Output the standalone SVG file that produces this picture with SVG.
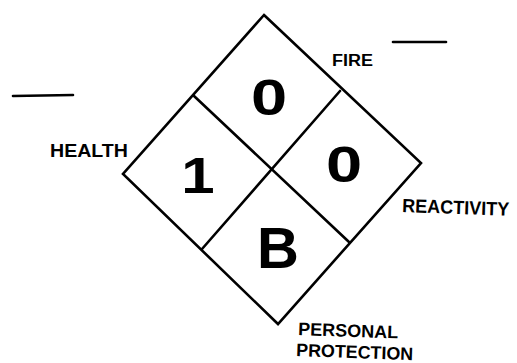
<svg xmlns="http://www.w3.org/2000/svg" width="517" height="363" viewBox="0 0 517 363">
<style>
.ln{fill:none;stroke:#000;stroke-width:2.6;stroke-linejoin:miter;stroke-linecap:round}
.lbl{font-family:"Liberation Sans",Arial,sans-serif;font-weight:bold;fill:#000}
.num{font-family:"Liberation Sans",Arial,sans-serif;font-weight:bold;fill:#000;text-anchor:middle}
</style>
<rect width="517" height="363" fill="#fff"/>
<g id="diamond">
<polygon class="ln" points="264,15 421,163 278,324 123,174"/>
</g>
<g id="connectors">
<line class="ln" x1="194" y1="96" x2="349" y2="242"/>
<line class="ln" x1="340" y1="91" x2="202" y2="249"/>
<line class="ln" x1="393" y1="42" x2="446" y2="42"/>
<line class="ln" x1="13" y1="96" x2="73" y2="95"/>
</g>
<g id="fire">
<text class="num" font-size="50" transform="translate(269,115) scale(1.3,1)">0</text>
<text class="lbl" x="332" y="66" font-size="16" textLength="41" lengthAdjust="spacingAndGlyphs">FIRE</text>
</g>
<g id="health">
<text class="num" font-size="50" transform="translate(198,193) scale(1.2,1)">1</text>
<text class="lbl" x="50" y="157" font-size="18" textLength="78" lengthAdjust="spacingAndGlyphs">HEALTH</text>
</g>
<g id="reactivity">
<text class="num" font-size="50" transform="translate(344,182) scale(1.3,1)">0</text>
<text class="lbl" x="402" y="212" font-size="19" textLength="107" lengthAdjust="spacingAndGlyphs" transform="rotate(2 402 212)">REACTIVITY</text>
</g>
<g id="personal-protection">
<text class="num" font-size="58" x="278" y="268">B</text>
<text class="lbl" x="298" y="335" font-size="18" textLength="100" lengthAdjust="spacingAndGlyphs" transform="rotate(2 298 335)">PERSONAL</text>
<text class="lbl" x="296" y="356" font-size="18" textLength="117" lengthAdjust="spacingAndGlyphs" transform="rotate(2 296 356)">PROTECTION</text>
</g>
</svg>
